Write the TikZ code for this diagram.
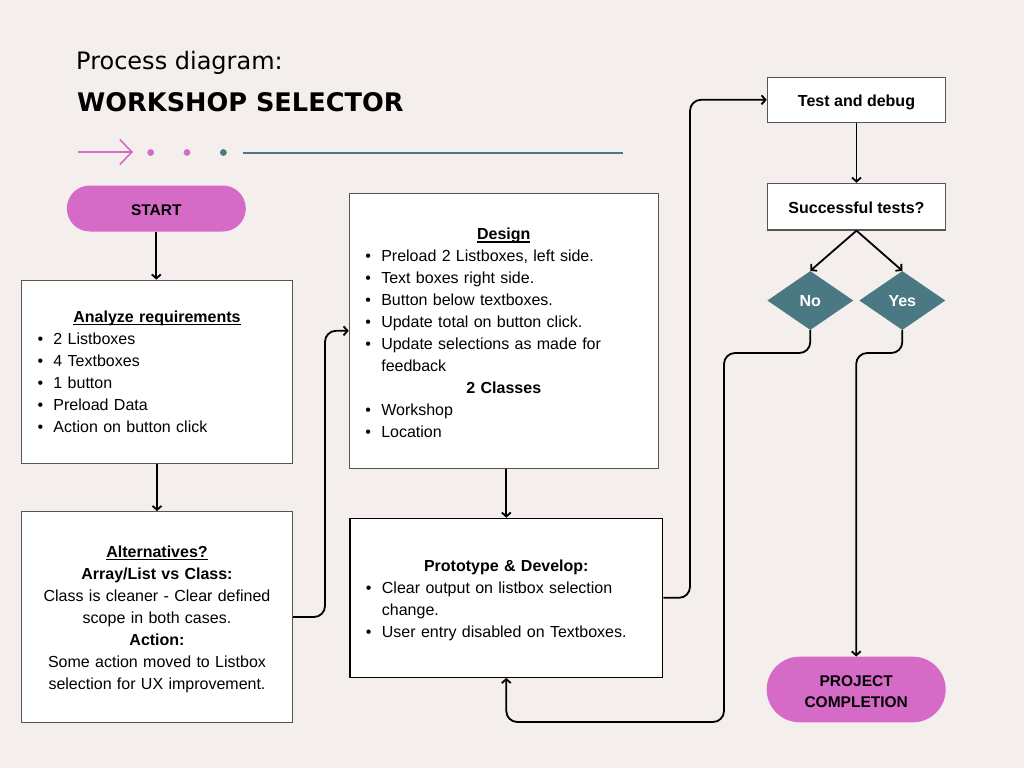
\documentclass[tikz,border=0pt]{standalone}
\usepackage{fontspec}
\setmainfont{Liberation Sans}
\newfontfamily\titlefont{DejaVu Sans}
\usetikzlibrary{arrows.meta,shapes.geometric,shapes.misc}
\definecolor{bg}{HTML}{F4EFEC}
\definecolor{pinkc}{HTML}{D56BC7}
\definecolor{tealc}{HTML}{4A7984}
\definecolor{boxline}{HTML}{555555}
\newcommand\bul{\makebox[16pt][l]{\textbullet}}
\newcommand\ulbox[1]{\setbox0\hbox{#1}\rlap{\rule[-3pt]{\wd0}{1.2pt}}\box0}
\newcommand\topstrut[1]{\rule{0pt}{#1}}
\begin{document}
\begin{tikzpicture}[x=1pt,y=-1pt,
  box/.style={draw=boxline, line width=1.2pt, fill=white, inner xsep=16pt, inner ysep=0pt, font=\fontsize{16}{22}\selectfont},
  smallbox/.style={draw=boxline, line width=1.2pt, fill=white, inner sep=0pt, text depth=0pt, font=\bfseries\fontsize{16}{22}\selectfont},
  pill/.style={rounded rectangle, fill=pinkc, inner sep=0pt, font=\bfseries\fontsize{15.5}{21.6}\selectfont, align=center},
  dia/.style={diamond, fill=tealc, inner sep=0pt, minimum width=86pt, minimum height=59pt, text=white, text height=11pt, text depth=0pt, font=\bfseries\fontsize{16}{20}\selectfont},
  conn/.style={line width=1.8pt, -{Straight Barb[length=4pt,width=9pt]}, rounded corners=11pt},
]
\useasboundingbox (0,0) rectangle (1024,768);
\fill[bg] (0,0) rectangle (1024,768);

% title
\node[anchor=base west, inner sep=0pt, font=\titlefont\fontsize{24}{28}\selectfont] (t1) at (76,70) {Process diagram:};
\node[anchor=base west, inner sep=0pt, font=\titlefont\bfseries\fontsize{25.6}{30}\selectfont] (t2) at (77,111.7) {WORKSHOP SELECTOR};

% decoration
\coordinate (a0) at (78,152);
\coordinate (a1) at (133,152);
\draw[pinkc, line width=1.6pt, -{Straight Barb[length=12pt,width=25pt]}] (a0) -- (a1);
\fill[pinkc] (150.7,152.5) circle (3.4pt);
\fill[pinkc] (187,152.5) circle (3.4pt);
\fill[tealc] (223.4,152.5) circle (3.4pt);
\coordinate (l0) at (242.5,152.7);
\coordinate (l1) at (622.6,152.7);
\draw[tealc, line width=2.2pt] (l0) -- (l1);

% nodes
\node[pill, minimum width=179pt, minimum height=46pt, text height=13.6pt, text depth=0pt] (start) at (156.3,208.5) {START};

\node[box, text width=239pt, minimum height=183pt] (ana) at (157,371.7) {%
\centerline{\textbf{\ulbox{Analyze requirements}}}
\leftline{\bul 2 Listboxes}
\leftline{\bul 4 Textboxes}
\leftline{\bul 1 button}
\leftline{\bul Preload Data}
\leftline{\bul Action on button click}};

\node[box, text width=239pt, minimum height=210.7pt] (alt) at (157,617) {%
\centerline{\topstrut{15.6pt}\textbf{\ulbox{Alternatives?}}}
\centerline{\textbf{Array/List vs Class:}}
\centerline{Class is cleaner - Clear defined}
\centerline{scope in both cases.}
\centerline{\textbf{Action:}}
\centerline{Some action moved to Listbox}
\centerline{selection for UX improvement.}};

\node[box, text width=277pt, minimum height=275pt] (design) at (503.8,330.8) {%
\centerline{\topstrut{15.6pt}\textbf{\ulbox{Design}}}
\leftline{\bul Preload 2 Listboxes, left side.}
\leftline{\bul Text boxes right side.}
\leftline{\bul Button below textboxes.}
\leftline{\bul Update total on button click.}
\leftline{\bul Update selections as made for}
\leftline{\hspace*{16pt}feedback}
\centerline{\textbf{2 Classes}}
\leftline{\bul Workshop}
\leftline{\bul Location}};

\node[box, draw=black, text width=280.7pt, minimum height=159pt] (proto) at (506.3,597.8) {%
\centerline{\topstrut{17.6pt}\textbf{Prototype \& Develop:}}
\leftline{\bul Clear output on listbox selection}
\leftline{\hspace*{16pt}change.}
\leftline{\bul User entry disabled on Textboxes.}};

\node[smallbox, minimum width=178.4pt, minimum height=45pt, text height=12.4pt] (test) at (856.5,99.8) {Test and debug};
\node[smallbox, minimum width=178.4pt, minimum height=46.7pt, text height=13.2pt] (succ) at (856.5,206.7) {Successful tests?};
\node[dia] (no) at (810.3,300.5) {No};
\node[dia] (yes) at (902.3,300.5) {Yes};
\node[pill, minimum width=179pt, minimum height=65.6pt] (done) at (856.2,689.5) {\topstrut{15.1pt}PROJECT\\COMPLETION};

% connectors
\draw[conn] (start.south) -- (start.south |- ana.north);
\draw[conn] (ana.south) -- (alt.north);
\coordinate (c1) at (325,0);
\draw[conn] (alt.east) -- (alt.east -| c1) -- (design.west -| c1) -- (design.west);
\draw[conn] (proto.north |- design.south) -- (proto.north);
\coordinate (c2) at (690,0);
\draw[conn] (proto.east) -- (proto.east -| c2) -- (test.west -| c2) -- (test.west);
\draw[conn] (test.south) -- (succ.north);
\draw[conn] (succ.south) -- (no.north);
\draw[conn] (succ.south) -- (yes.north);
\coordinate (c3) at (724,353);
\coordinate (c4) at (0,722);
\draw[conn] (no.south) -- (no.south |- c3) -- (c3) -- (c3 |- c4) -- (proto.south |- c4) -- (proto.south);
\draw[conn] (yes.south) -- (yes.south |- c3) -- (done.north |- c3) -- (done.north);
\end{tikzpicture}
\end{document}
